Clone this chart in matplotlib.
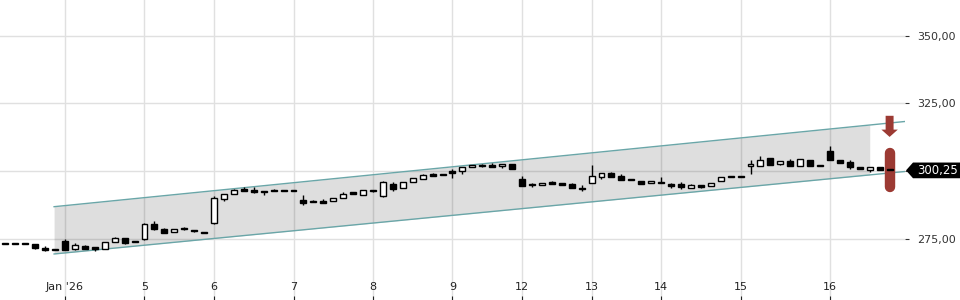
import numpy as np
import matplotlib
matplotlib.use('Agg')
import matplotlib.pyplot as plt
from matplotlib.patches import Polygon, FancyArrow
from matplotlib.transforms import blended_transform_factory

# OHLC candles (one per bar, evenly spaced, session gaps removed)
opens = [273.0, 273.3, 273.2, 272.9, 271.7, 271.0, 274.2, 271.1, 272.3, 271.9,
         271.1, 273.9, 275.3, 273.7, 274.8, 280.6, 278.8, 277.6, 279.1, 278.3,
         277.3, 280.7, 289.6, 291.7, 293.4, 293.0, 292.7, 292.6, 292.6, 292.6,
         289.5, 288.7, 289.0, 288.8, 290.0, 292.2, 291.3, 292.5, 290.8, 295.4,
         293.7, 295.8, 297.0, 298.9, 298.4, 300.0, 300.1, 301.4, 301.9, 302.3,
         301.7, 302.6, 296.9, 295.3, 294.7, 296.0, 295.7, 295.1, 293.8, 295.7,
         297.7, 299.4, 298.3, 296.8, 296.4, 295.5, 295.9, 295.2, 295.2, 293.7,
         294.8, 294.5, 296.2, 297.8, 297.8, 301.7, 302.0, 304.7, 302.7, 303.7,
         301.8, 304.0, 301.9, 307.3, 304.1, 303.2, 301.6, 300.5, 301.4, 300.7]
highs = [273.2, 273.3, 273.2, 273.0, 272.3, 271.2, 275.0, 273.3, 272.8, 272.1,
         273.8, 275.7, 275.3, 273.9, 280.9, 281.5, 279.0, 278.6, 279.5, 278.4,
         277.4, 290.9, 291.6, 293.3, 294.0, 294.0, 292.8, 293.3, 292.6, 292.6,
         291.1, 289.5, 289.7, 289.9, 292.1, 292.2, 292.9, 292.5, 296.3, 295.9,
         295.8, 297.3, 299.0, 299.4, 299.1, 300.6, 301.6, 302.2, 302.5, 302.8,
         302.6, 302.6, 298.2, 295.7, 295.7, 296.4, 295.7, 295.7, 294.7, 302.2,
         299.2, 299.7, 299.0, 297.2, 296.4, 296.2, 297.9, 295.6, 296.0, 295.3,
         294.8, 295.5, 297.7, 297.9, 297.9, 304.1, 305.6, 304.7, 303.6, 304.3,
         304.4, 304.0, 302.0, 309.2, 304.1, 304.1, 301.6, 301.4, 301.4, 300.7]
lows = [272.9, 273.0, 272.9, 271.4, 270.6, 271.0, 270.7, 270.7, 271.2, 270.6,
        271.1, 273.8, 273.2, 273.7, 274.6, 278.3, 277.2, 277.5, 278.4, 277.6,
        277.1, 280.5, 288.9, 291.6, 292.7, 292.0, 291.0, 292.5, 292.5, 292.5,
        287.4, 288.6, 288.3, 288.8, 290.0, 291.4, 291.3, 292.4, 290.3, 292.7,
        293.7, 295.8, 297.0, 298.0, 298.4, 297.4, 298.9, 301.4, 301.5, 301.5,
        301.2, 300.7, 294.5, 294.3, 294.7, 295.3, 294.7, 293.6, 292.7, 295.7,
        297.2, 297.7, 296.7, 296.6, 295.1, 295.5, 295.7, 293.8, 293.3, 293.7,
        293.6, 294.5, 296.2, 297.8, 297.8, 298.8, 302.0, 302.3, 302.4, 301.7,
        301.8, 301.7, 301.9, 304.2, 303.1, 300.9, 300.6, 299.6, 300.5, 300.25]
closes = [273.1, 273.0, 272.9, 271.5, 270.7, 271.1, 270.9, 272.6, 271.4, 271.4,
          273.8, 275.3, 273.3, 273.8, 280.3, 278.5, 277.3, 278.5, 278.5, 277.7,
          277.2, 289.9, 291.4, 292.9, 292.8, 292.1, 292.1, 292.5, 292.5, 292.5,
          288.1, 288.9, 288.3, 289.9, 291.5, 291.4, 292.9, 292.5, 295.9, 293.5,
          295.8, 297.3, 298.4, 298.1, 299.1, 299.4, 301.6, 302.2, 302.1, 301.5,
          302.6, 300.7, 294.5, 294.9, 295.7, 295.3, 294.7, 293.6, 293.3, 298.2,
          299.2, 297.7, 296.7, 296.6, 295.1, 296.2, 295.7, 294.4, 294.0, 294.7,
          294.2, 295.5, 297.7, 297.9, 297.9, 302.7, 304.1, 302.3, 303.6, 301.7,
          304.4, 301.7, 302.0, 304.2, 303.1, 301.6, 300.6, 301.4, 300.5, 300.25]

# first bar of each session and its label
day_starts = [6, 14, 21, 29, 37, 45, 52, 59, 66, 74, 83]
day_labels = ["Jan '26", "5", "6", "7", "8", "9", "12", "13", "14", "15", "16"]

price_ticks = [275, 300, 325, 350]
last_price = 300.25

# trend channel (bar index, upper, lower) and where its shading stops
channel_x = [4.9, 90.55]
channel_upper = [286.85, 318.3]
channel_lower = [269.4, 299.84]
channel_fill_end = 87.0

# forecast markers on the right
signal_x = 89.0
arrow_top, arrow_bottom = 320.4, 312.6
range_top, range_bottom = 306.7, 294.1

red = '#9c3a33'

fig = plt.figure(figsize=(9.6, 3.0), dpi=100)
ax = fig.add_axes([0, 0, 905 / 960, 1])

x = np.arange(len(opens))
o = np.array(opens)
c = np.array(closes)

# grid
ax.grid(True, color='#e0e0e0', linewidth=1)
ax.set_axisbelow(True)

# channel shading and lines
fx = np.linspace(channel_x[0], channel_fill_end, 2)
ax.fill_between(fx, np.interp(fx, channel_x, channel_lower),
                np.interp(fx, channel_x, channel_upper),
                color='k', alpha=0.13, linewidth=0, zorder=1)
ax.plot(channel_x, channel_upper, color='#6aa6a8', linewidth=1, zorder=2)
ax.plot(channel_x, channel_lower, color='#6aa6a8', linewidth=1, zorder=2)

# forecast: down arrow and expected range (under the candles)
ax.add_patch(FancyArrow(signal_x, arrow_top, 0, arrow_bottom - arrow_top,
                        width=0.8, head_width=1.65, head_length=2.7,
                        length_includes_head=True, color=red, linewidth=0, zorder=2.5))
ax.plot([signal_x, signal_x], [range_bottom, range_top], color=red,
        linewidth=7.5, solid_capstyle='round', zorder=2.5)

# candles
ax.vlines(x, lows, highs, color='k', linewidth=1, zorder=3)
up = c >= o
bottoms = np.minimum(o, c)
heights = np.maximum(np.abs(c - o), 0.4)
ax.bar(x, heights, bottom=bottoms, width=0.6,
       color=np.where(up, 'white', 'black'), edgecolor='k', linewidth=1, zorder=4)

ax.set_xlim(-0.544, 90.55)
ax.set_ylim(252.41, 363.14)

ax.set_xticks(day_starts)
ax.set_xticklabels(day_labels)
ax.tick_params(axis='x', direction='in', length=3, pad=-13, labelsize=8,
               colors='#222222', width=0.8)

# the 300 label sits under the last-price tag, so leave it blank
ax.yaxis.tick_right()
ax.set_yticks(price_ticks)
ax.set_yticklabels(['' if p == 300 else '{:.2f}'.format(p).replace('.', ',')
                    for p in price_ticks])
ax.tick_params(axis='y', direction='out', length=3, pad=6, labelsize=8,
               colors='#333333', width=0.8)

for s in ax.spines.values():
    s.set_visible(False)

# last price tag
tr = blended_transform_factory(fig.transFigure, ax.transData)
h = 2.9
tag = Polygon([(906 / 960, last_price), (913 / 960, last_price + h), (1.0, last_price + h),
               (1.0, last_price - h), (913 / 960, last_price - h)],
              closed=True, transform=tr, facecolor='black', edgecolor='none',
              clip_on=False, zorder=10)
ax.add_patch(tag)
ax.text(917 / 960, last_price, '{:.2f}'.format(last_price).replace('.', ','),
        transform=tr, color='white', fontsize=8.5, ha='left', va='center',
        clip_on=False, zorder=11)

plt.savefig('out.png', dpi=100)
